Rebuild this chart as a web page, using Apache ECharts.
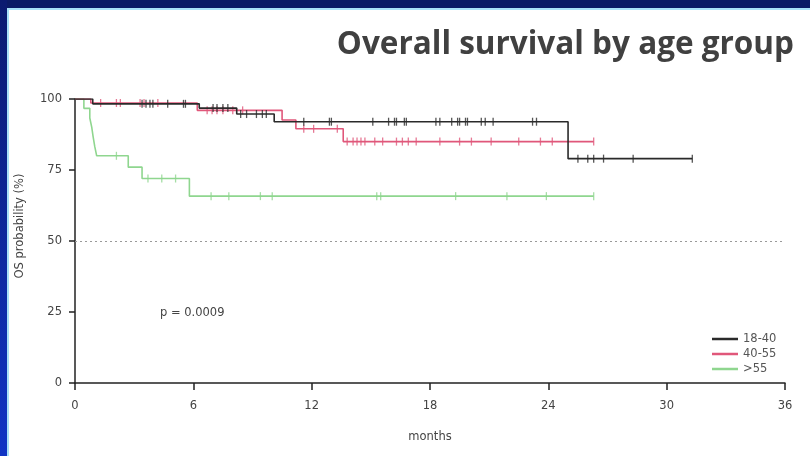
<!DOCTYPE html>
<html><head><meta charset="utf-8">
<script src="https://cdn.jsdelivr.net/npm/echarts@6/dist/echarts.min.js"></script>
<style>html,body{margin:0;padding:0;background:#fff}#c{width:810px;height:456px}</style>
</head><body><div id="c"></div>
<script>
// ---- data ----
const seriesNames = ['18-40', '40-55', '>55'];
const xTicks = [0, 6, 12, 18, 24, 30, 36];
const yTicks = [0, 25, 50, 75, 100];

// Kaplan-Meier step curves (time in months, survival in %)
const blackT = [0, 0.9, 6.3, 8.2, 10.1, 25.0, 31.3];
const blackS = [100, 98.3, 96.8, 94.7, 92, 79, 79];
const redT = [0, 0.8, 6.2, 10.5, 11.2, 13.6, 26.3];
const redS = [100, 98.6, 96, 92.6, 89.5, 85, 85];
const greenT = [0, 0.45, 0.75, 0.85, 0.92, 1.0, 1.1, 2.7, 3.4, 5.8, 26.3];
const greenS = [100, 96.7, 93.3, 90, 86.7, 83.3, 80, 76, 72, 65.8, 65.8];

// censoring times
const blackC = [3.4, 3.6, 3.8, 3.95, 4.7, 5.5, 5.6, 7.0, 7.2, 7.5, 7.75, 8.4, 8.7, 9.2, 9.5, 9.7,
  11.6, 12.9, 13.0, 15.1, 15.9, 16.2, 16.3, 16.7, 16.8, 18.3, 18.5, 19.1, 19.4, 19.5, 19.8, 19.9,
  20.6, 20.8, 21.2, 23.2, 23.4, 25.5, 26.0, 26.3, 26.8, 28.3, 31.3];
const redC = [1.3, 2.1, 2.3, 3.3, 3.5, 4.2, 6.7, 6.95, 7.2, 7.5, 8.0, 8.5, 11.6, 12.1, 13.3, 13.8,
  14.1, 14.3, 14.5, 14.7, 15.2, 15.6, 16.3, 16.6, 16.9, 17.3, 18.5, 19.5, 20.1, 21.1, 22.5, 23.6, 24.2, 26.3];
const greenC = [2.1, 3.7, 4.4, 5.1, 6.9, 7.8, 9.4, 10.0, 15.3, 15.5, 19.3, 21.9, 23.9, 26.3];

const pText = 'p = 0.0009';
const titleText = 'Overall survival by age group';
const xName = 'months';
const yName = 'OS probability (%)';

// ---- helpers ----
function pairs(T, S) { return T.map((t, i) => [t, S[i]]); }
function survAt(T, S, t) { let v = S[0]; for (let i = 0; i < T.length; i++) { if (T[i] <= t) v = S[i]; } return v; }
function censor(T, S, C) { return C.map(t => [t, survAt(T, S, t)]); }

const FONT = 'DejaVu Sans';
const colors = ['#2a2a2a', '#e0577a', '#8fd68f'];
const curves = [[blackT, blackS, blackC], [redT, redS, redC], [greenT, greenS, greenC]];

const series = [];
curves.forEach((c, i) => {
  series.push({
    name: seriesNames[i], type: 'line', step: 'end', symbol: 'none',
    data: pairs(c[0], c[1]), z: 3 - i + 5,
    lineStyle: { color: colors[i], width: 1.6 }, itemStyle: { color: colors[i] },
    markLine: i === 0 ? {
      silent: true, symbol: 'none', label: { show: false },
      lineStyle: { color: '#9a9a9a', type: [2, 3], width: 1 },
      data: [{ yAxis: 50 }]
    } : undefined
  });
  series.push({
    name: 'c' + i, type: 'scatter', symbol: 'rect', symbolSize: [1.3, 8],
    data: censor(c[0], c[1], c[2]), z: 3 - i + 5,
    itemStyle: { color: colors[i] }
  });
});

const chart = echarts.init(document.getElementById('c'), null, { renderer: 'canvas' });
chart.setOption({
  animation: false,
  backgroundColor: '#ffffff',
  grid: { left: 75, right: 25, top: 99, bottom: 73 },
  xAxis: {
    type: 'value', min: 0, max: 36, interval: 6,
    name: xName, nameLocation: 'middle', nameGap: 48,
    nameTextStyle: { fontFamily: FONT, fontSize: 11.5, color: '#444' },
    axisLine: { lineStyle: { color: '#222', width: 1.5 } },
    axisTick: { show: true, length: 7, lineStyle: { color: '#222', width: 1.5 } },
    axisLabel: { fontFamily: FONT, fontSize: 11.5, color: '#444', margin: 17,
      formatter: v => xTicks.includes(v) ? String(v) : '' },
    splitLine: { show: false }
  },
  yAxis: {
    type: 'value', min: 0, max: 100, interval: 25,
    axisLine: { show: true, lineStyle: { color: '#222', width: 1.5 } },
    axisTick: { show: true, length: 6, lineStyle: { color: '#222', width: 1.5 } },
    axisLabel: { fontFamily: FONT, fontSize: 11.5, color: '#444', margin: 13,
      formatter: v => yTicks.includes(v) ? String(v) : '' },
    splitLine: { show: false }
  },
  legend: {
    data: seriesNames, orient: 'vertical', left: 707, top: 328, itemGap: 3,
    icon: 'rect', itemWidth: 26, itemHeight: 2.5,
    textStyle: { fontFamily: FONT, fontSize: 11.5, color: '#555' }
  },
  series: series,
  graphic: [
    { type: 'rect', shape: { x: 0, y: 0, width: 810, height: 8 }, style: { fill: '#0b1a66' }, silent: true },
    { type: 'rect', shape: { x: 0, y: 0, width: 7, height: 456 },
      style: { fill: new echarts.graphic.LinearGradient(0, 0, 0, 1, [{ offset: 0, color: '#0b1a70' }, { offset: 1, color: '#1034c4' }]) }, silent: true },
    { type: 'rect', shape: { x: 7, y: 8, width: 803, height: 2 }, style: { fill: '#a8e0f8' }, silent: true },
    { type: 'rect', shape: { x: 7, y: 8, width: 2, height: 448 }, style: { fill: '#a8e0f8' }, silent: true },
    { type: 'text', x: 794, y: 45, style: { text: titleText, fontFamily: 'Open Sans', fontWeight: 'bold', fontSize: 31.5, fill: '#404040', align: 'right', verticalAlign: 'middle' } },
    { type: 'text', x: 20, y: 226, rotation: Math.PI / 2, style: { text: yName, fontFamily: FONT, fontSize: 11.5, fill: '#444', align: 'center', verticalAlign: 'middle' } },
    { type: 'text', x: 160, y: 313, style: { text: pText, fontFamily: FONT, fontSize: 11.5, fill: '#444', verticalAlign: 'middle' } }
  ]
});
</script>
</body></html>
